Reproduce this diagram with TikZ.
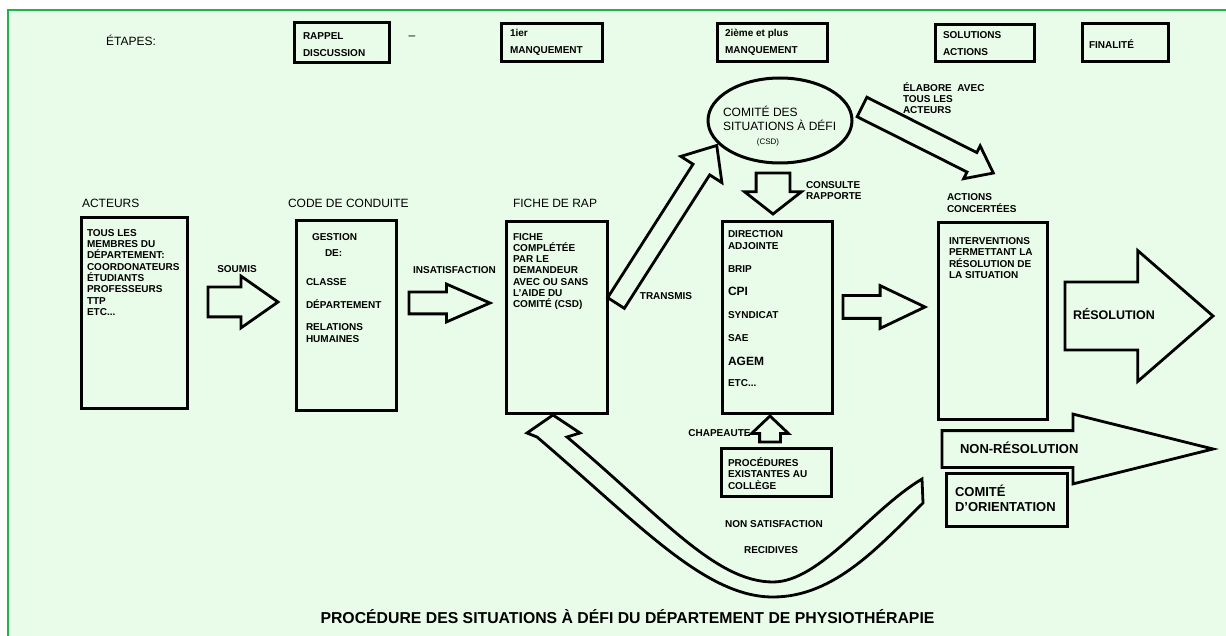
\documentclass[tikz,border=0pt]{standalone}
\usepackage{fontspec}
\setmainfont{Liberation Sans}
\usetikzlibrary{shapes.arrows,shapes.geometric}
\definecolor{fond}{RGB}{233,252,233}
\definecolor{cadre}{RGB}{34,177,76}
\begin{document}
\begin{tikzpicture}[x=1pt,y=-1pt]

	%DEFINITIONS
	\tikzstyle{every node}=[inner sep=0pt, outer sep=0pt]
	\tikzstyle{txt} = [font=\bfseries\fontsize{10}{11.3}\selectfont, align=left]
	\tikzstyle{titre} = [font=\fontsize{12}{14}\selectfont, align=left]
	\tikzstyle{entete} = [font=\bfseries\fontsize{10}{17}\selectfont, align=left]
	\tikzstyle{grand} = [font=\bfseries\fontsize{13}{15}\selectfont, align=left]
	\tikzstyle{boite} = [draw, line width=3pt]
	\tikzstyle{fleche} = [draw, single arrow, anchor=tail, line width=2.8pt, fill=fond, line join=miter]

	%FOND
	\useasboundingbox (0,0) rectangle (1226,636);
	\fill[white] (0,0) rectangle (1226,636);
	\fill[fond] (8,10) rectangle (1226,636);
	\draw[cadre, line width=2pt] (8,636) -- (8,10) -- (1226,10);

	%ETAPES
	\draw(131,40) node[titre](etapes){ÉTAPES:};
	\draw(341.5,43) node[boite, minimum width=95pt, minimum height=40pt](rappel){};
	\draw(303,45) node[entete, anchor=west](rappeltxt){RAPPEL\\DISCUSSION};
	\draw(412,38) node[titre](tiret){–};
	\draw(551.5,43) node[boite, minimum width=101pt, minimum height=38pt](manq1){};
	\draw(510,42) node[entete, anchor=west](manq1txt){1ier\\MANQUEMENT};
	\draw(772,43) node[boite, minimum width=110pt, minimum height=38pt](manq2){};
	\draw(725,42) node[entete, anchor=west](manq2txt){2ième et plus\\MANQUEMENT};
	\draw(984.5,43.5) node[boite, minimum width=99pt, minimum height=37pt](solutions){};
	\draw(943,43.5) node[entete, anchor=west](solutionstxt){SOLUTIONS\\ACTIONS};
	\draw(1125,43) node[boite, minimum width=86pt, minimum height=38pt](finalite){};
	\draw(1089,44) node[entete, anchor=west](finalitetxt){FINALITÉ};

	%BLOCS
	\draw(82,203) node[titre, anchor=west](acteurstitre){ACTEURS};
	\draw(134,313) node[boite, minimum width=106pt, minimum height=190pt](acteurs){};
	\draw(87,272.5) node[txt, anchor=west](acteurstxt){TOUS LES\\MEMBRES DU\\DÉPARTEMENT:\\COORDONATEURS\\ÉTUDIANTS\\PROFESSEURS\\TTP\\ETC...};

	\draw(288,203) node[titre, anchor=west](codetitre){CODE DE CONDUITE};
	\draw(346,315.5) node[boite, minimum width=100pt, minimum height=189pt](code){};
	\draw(306,288) node[txt, anchor=west](codetxt){\hspace*{6pt}GESTION\\[4.7pt]\hspace*{19pt}DE:\\[17.7pt]CLASSE\\[11.7pt]DÉPARTEMENT\\[10.7pt]RELATIONS\\HUMAINES};

	\draw(513,203) node[titre, anchor=west](fichetitre){FICHE DE RAP};
	\draw(556.5,317.5) node[boite, minimum width=101pt, minimum height=191pt](fiche){};
	\draw(513,271.5) node[txt, anchor=west](fichetxt){FICHE\\COMPLÉTÉE\\PAR LE\\DEMANDEUR\\AVEC OU SANS\\L'AIDE DU\\COMITÉ (CSD)};

	\draw(780,120.5) node[ellipse, draw, line width=3pt, minimum width=144pt, minimum height=85pt](csd){};
	\draw(723,118) node[titre, anchor=west](csdtxt){COMITÉ DES\\SITUATIONS À DÉFI};
	\draw(768,142) node[font=\fontsize{8}{9}\selectfont](csdsigle){(CSD)};

	\draw(806,190.5) node[txt, anchor=west](consulte){CONSULTE\\RAPPORTE};
	\draw(777,317.5) node[boite, minimum width=110pt, minimum height=191pt](instances){};
	\draw(728,308.5) node[txt, anchor=west](instancestxt){DIRECTION\\ADJOINTE\\[11.7pt]BRIP\\[11.7pt]{\fontsize{12}{11.3}\selectfont CPI}\\[11.7pt]SYNDICAT\\[11.7pt]SAE\\[12.7pt]{\fontsize{12}{11.3}\selectfont AGEM}\\[9.7pt]ETC...};

	\draw(719.5,433) node[txt](chapeaute){CHAPEAUTE};
	\draw(776,472) node[boite, minimum width=110pt, minimum height=48pt](procedures){};
	\draw(728,473.5) node[txt, anchor=west](procedurestxt){PROCÉDURES\\EXISTANTES AU\\COLLÈGE};

	\draw(903,98) node[txt, anchor=west](elabore){ÉLABORE\ \ AVEC\\TOUS LES\\ACTEURS};
	\draw(947,203) node[txt, anchor=west](concertees){ACTIONS\\CONCERTÉES};
	\draw(992.5,321) node[boite, minimum width=109pt, minimum height=196pt](actions){};
	\draw(949,258) node[txt, anchor=west](actionstxt){INTERVENTIONS\\PERMETTANT LA\\RÉSOLUTION DE\\LA SITUATION};

	\draw(1006.5,499.5) node[boite, minimum width=121pt, minimum height=53pt](orientation){};
	\draw(955,498.5) node[grand, anchor=west](orientationtxt){COMITÉ\\D'ORIENTATION};

	%FLECHES
	\draw(237,269) node[txt](soumis){SOUMIS};
	\draw(208,302) node[fleche, minimum height=70pt, inner ysep=13.5pt, single arrow head extend=11pt, single arrow tip angle=70](soumisfl){};
	\draw(454.5,270) node[txt](insatisfaction){INSATISFACTION};
	\draw(409,303) node[fleche, minimum height=81pt, inner ysep=9.5pt, single arrow head extend=8pt, single arrow tip angle=47](insatisfl){};
	\draw(666,296) node[txt](transmis){TRANSMIS};
	\draw(616,303) node[fleche, rotate=57.4, minimum height=187pt, inner ysep=8.5pt, single arrow head extend=14.5pt, single arrow tip angle=81](transmisfl){};
	\draw(862,107) node[fleche, rotate=-26.7, minimum height=147pt, inner ysep=9.5pt, single arrow head extend=7.5pt, single arrow tip angle=75](elaborefl){};
	\draw(773,173) node[fleche, rotate=-90, minimum height=41pt, inner ysep=15.5pt, single arrow head extend=11.5pt, single arrow tip angle=104](consultefl){};
	\draw(770,442) node[fleche, rotate=90, minimum height=26pt, inner ysep=9pt, single arrow head extend=8pt, single arrow tip angle=93](chapeautefl){};
	\draw(843,307) node[fleche, minimum height=82pt, inner ysep=10pt, single arrow head extend=10pt, single arrow tip angle=51](actionsfl){};
	\draw(1065,316) node[fleche, minimum height=148pt, inner ysep=32.5pt, single arrow head extend=31.5pt, single arrow tip angle=82](resolutionfl){};
	\draw(1073,314) node[grand, anchor=west, font=\bfseries\fontsize{12.5}{15}\selectfont](resolution){RÉSOLUTION};
	\draw(942,449) node[fleche, minimum height=271pt, inner ysep=17pt, single arrow head extend=16.5pt, single arrow tip angle=28](nonresolutionfl){};
	\draw(960,448) node[grand, anchor=west](nonresolution){NON-RÉSOLUTION};

	%RETOUR
	\coordinate (pointe) at (553,415);
	\coordinate (queue) at (922,491);
	\draw[line width=2.8pt, fill=fond, line join=miter] (pointe) -- (580,433) -- (567,437) .. controls (660,515) and (715,582) .. (773,582) .. controls (820,582) and (870,510) .. (922,479) -- (923,503) .. controls (880,545) and (835,597) .. (773,597) .. controls (705,597) and (640,525) .. (537,437) -- (527,433) -- cycle;
	\draw(774,524) node[txt](nonsatisfaction){NON SATISFACTION};
	\draw(771,550) node[txt](recidives){RECIDIVES};

	%TITRE
	\draw(627.5,617) node[font=\bfseries\fontsize{15.8}{19}\selectfont](titre){PROCÉDURE DES SITUATIONS À DÉFI DU DÉPARTEMENT DE PHYSIOTHÉRAPIE};
\end{tikzpicture}
\end{document}
